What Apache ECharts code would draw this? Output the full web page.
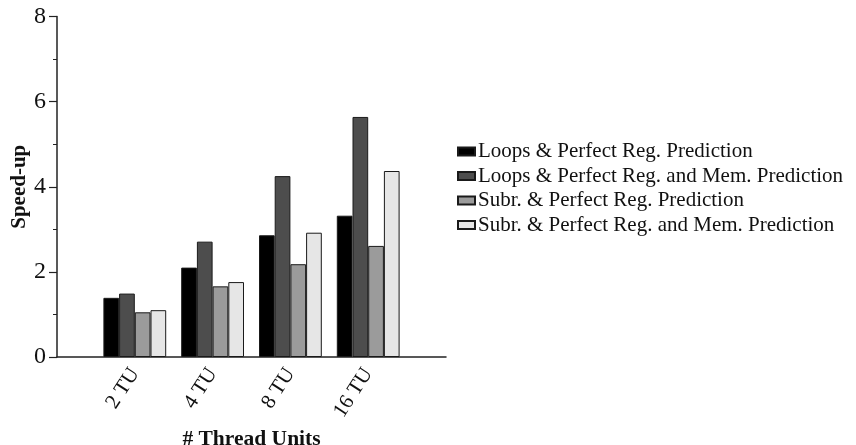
<!DOCTYPE html>
<html>
<head>
<meta charset="utf-8">
<script src="https://cdn.jsdelivr.net/npm/echarts@6/dist/echarts.min.js"></script>
<style>
  html, body { margin: 0; padding: 0; background: #fff; }
  #chart { width: 856px; height: 445px; }
</style>
</head>
<body>
<div id="chart"></div>
<script>
// Thread-unit configurations on the x axis
const categories = ['2 TU', '4 TU', '8 TU', '16 TU'];

// Speed-up per configuration
const loopsReg = [1.39, 2.10, 2.86, 3.32];
const loopsRegMem = [1.49, 2.71, 4.25, 5.64];
const subrReg = [1.05, 1.66, 2.18, 2.61];
const subrRegMem = [1.10, 1.76, 2.92, 4.37];

const seriesNames = [
  'Loops & Perfect Reg. Prediction',
  'Loops & Perfect Reg. and Mem. Prediction',
  'Subr. & Perfect Reg. Prediction',
  'Subr. & Perfect Reg. and Mem. Prediction'
];
const seriesValues = [loopsReg, loopsRegMem, subrReg, subrRegMem];
const fills = ['#000000', '#4d4d4d', '#9b9b9b', '#e6e6e6'];

// Y axis ticks
const yMin = 0, yMax = 8, yStep = 2;

// Empty slots on both ends so the groups sit one band in from each axis end
const axisCats = [''].concat(categories, ['']);
const pad = v => [null].concat(v, [null]);

const serif = '"Liberation Serif", "DejaVu Serif", serif';
const axisColor = '#222';

const chart = echarts.init(document.getElementById('chart'), null, { renderer: 'canvas' });
chart.setOption({
  animation: false,
  backgroundColor: '#fff',
  grid: { left: 57, right: 410, top: 16.5, bottom: 88, containLabel: false, outerBoundsMode: 'none' },
  legend: {
    orient: 'vertical',
    left: 452,
    top: 136,
    itemWidth: 17,
    itemHeight: 8,
    itemGap: 3.5,
    icon: 'rect',
    textStyle: { fontFamily: serif, fontSize: 21, color: '#111', padding: [0, 0, 0, -2] },
    data: seriesNames
  },
  xAxis: {
    type: 'category',
    data: axisCats,
    boundaryGap: false,
    name: '# Thread Units',
    nameLocation: 'middle',
    nameGap: 67,
    nameTextStyle: { fontFamily: serif, fontSize: 21.5, fontWeight: 'bold', color: '#111' },
    axisLine: { lineStyle: { color: axisColor, width: 1.5 } },
    axisTick: { show: false },
    axisLabel: {
      rotate: 57,
      margin: 13,
      interval: 0,
      fontFamily: serif,
      fontSize: 21,
      color: '#111'
    },
    splitLine: { show: false }
  },
  yAxis: {
    type: 'value',
    min: yMin,
    max: yMax,
    interval: yStep,
    name: 'Speed-up',
    nameLocation: 'middle',
    nameGap: 23,
    nameTextStyle: { fontFamily: serif, fontSize: 21, fontWeight: 'bold', color: '#111' },
    axisLine: { show: true, lineStyle: { color: axisColor, width: 1.5 } },
    axisTick: { show: true, inside: false, length: 8, lineStyle: { color: axisColor, width: 1.2 } },
    minorTick: { show: true, splitNumber: 2, length: 4, lineStyle: { color: axisColor, width: 1 } },
    axisLabel: { margin: 11, fontFamily: serif, fontSize: 24, color: '#111' },
    splitLine: { show: false }
  },
  series: seriesNames.map((name, i) => ({
    name: name,
    type: 'bar',
    data: pad(seriesValues[i]),
    barWidth: 15.7,
    barGap: '0%',
    itemStyle: { color: fills[i], borderColor: '#1a1a1a', borderWidth: 1 }
  }))
});
</script>
</body>
</html>
